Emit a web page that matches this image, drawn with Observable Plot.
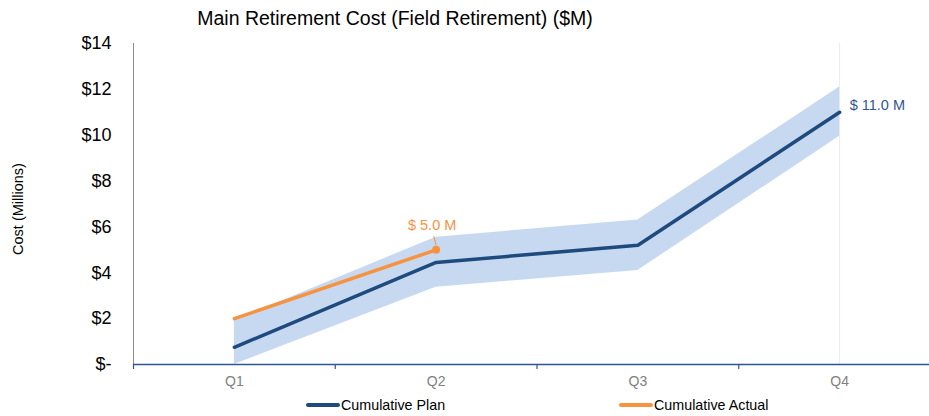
<!DOCTYPE html>
<html>
<head>
<meta charset="utf-8">
<script src="https://cdn.jsdelivr.net/npm/d3@7"></script>
<script src="https://cdn.jsdelivr.net/npm/@observablehq/plot@0.6"></script>
<style>
  html, body { margin: 0; padding: 0; background: #fff; }
  #wrap { position: relative; width: 929px; height: 416px; overflow: hidden; font-family: "Liberation Sans", Arial, sans-serif; }
  #title { position: absolute; left: 0; top: 7px; width: 790px; text-align: center; font-size: 19.5px; color: #000; }
  #chart { position: absolute; left: 0; top: 0; }
  #legend { position: absolute; top: 397px; left: 0; width: 929px; height: 19px; font-size: 14.3px; color: #000; }
  .item { position: absolute; top: 0; display: flex; align-items: center; }
  .sw { display: inline-block; width: 34px; height: 4px; border-radius: 2px; margin-right: 1px; }
</style>
</head>
<body>
<div id="wrap">
  <div id="chart"></div>
  <div id="title"></div>
  <div id="legend"></div>
</div>
<script>
// ---- data ----
const titleText = "Main Retirement Cost (Field Retirement) ($M)";
const yLabel = "Cost (Millions)";
const quarters = ["Q1", "Q2", "Q3", "Q4"];
const planValues = [0.75, 4.45, 5.2, 11.0];
const planLow = [0.0, 3.37, 4.1, 9.95];
const planHigh = [1.92, 5.55, 6.3, 12.1];
const actualValues = [2.0, 5.0, null, null];
const yTicks = [0, 2, 4, 6, 8, 10, 12, 14];
const yTickLabels = ["$-", "$2", "$4", "$6", "$8", "$10", "$12", "$14"];
const seriesNames = ["Cumulative Plan", "Cumulative Actual"];

// ---- style ----
const planColor = "#1F4A7E";
const actualColor = "#F7923F";
const bandColor = "#C6D9F0";
const planLabelColor = "#2F5597";

const rows = quarters.map((q, i) => ({
  q, i: i + 0.5, plan: planValues[i], low: planLow[i], high: planHigh[i], actual: actualValues[i]
}));
const actualRows = rows.filter(d => d.actual != null);
const lastPlan = rows[rows.length - 1];
const lastActual = actualRows[actualRows.length - 1];
const boundaries = d3.range(0, quarters.length + 1);

const fmt = v => `$ ${v.toFixed(1)} M`;

const chart = Plot.plot({
  width: 929,
  height: 416,
  marginLeft: 133,
  marginRight: 0,
  marginTop: 43,
  marginBottom: 52,
  style: { fontFamily: "'Liberation Sans', Arial, sans-serif", background: "transparent", overflow: "hidden" },
  x: { type: "linear", domain: [0, quarters.length], range: [133, 940], axis: null },
  y: { type: "linear", domain: [0, 14], axis: null },
  marks: [
    // faint vertical at last quarter
    Plot.ruleX([lastPlan], { x: "i", y1: 0, y2: 14, stroke: "#ebebeb", strokeWidth: 1 }),
    Plot.areaY(rows, { x: "i", y1: "low", y2: "high", fill: bandColor }),
    // y axis line
    Plot.ruleX([0], { y1: 0, y2: 14, stroke: "#8c8c8c", strokeWidth: 1 }),
    // y tick labels
    Plot.text(yTicks, { x: 0, y: d => d, text: (d, k) => yTickLabels[k], textAnchor: "end", dx: -22, fontSize: 18, fill: "#000" }),
    // y label
    Plot.text([yLabel], { x: 0, y: 7, dx: -115, dy: 5, textAnchor: "middle", rotate: -90, fontSize: 14.5, fill: "#000" }),
    // x axis
    Plot.ruleY([0], { stroke: "#2F5597", strokeWidth: 1.5 }),
    Plot.ruleX(boundaries, { x: d => d, y1: 0, y2: 0, insetBottom: -5, stroke: "#2F5597", strokeWidth: 1.2 }),
    Plot.text(rows, { x: "i", y: 0, text: "q", dy: 17, fontSize: 14, fill: "#7F7F7F" }),
    // lines
    Plot.line(rows, { x: "i", y: "plan", stroke: planColor, strokeWidth: 3.5 }),
    Plot.line(actualRows, { x: "i", y: "actual", stroke: actualColor, strokeWidth: 3.5 }),
    Plot.dot([lastActual], { x: "i", y: "actual", r: 4, fill: actualColor }),
    // leader line for actual label
    Plot.link([lastActual], { x1: "i", y1: d => d.actual + 0.2, x2: d => d.i - 0.012, y2: d => d.actual + 0.6, stroke: actualColor, strokeWidth: 1 }),
    Plot.text([lastActual], { x: "i", y: "actual", text: d => fmt(d.actual), dy: -24, dx: -4, fontSize: 14.5, fill: actualColor }),
    Plot.text([lastPlan], { x: "i", y: "plan", text: d => fmt(d.plan), textAnchor: "start", dx: 10, dy: -7, fontSize: 14.5, fill: planLabelColor })
  ]
});
document.getElementById("chart").appendChild(chart);
document.getElementById("title").textContent = titleText;

const legend = document.getElementById("legend");
const legendItems = [
  { name: seriesNames[0], color: planColor, left: 306 },
  { name: seriesNames[1], color: actualColor, left: 619 }
];
legendItems.forEach(it => {
  const el = document.createElement("div");
  el.className = "item";
  el.style.left = it.left + "px";
  const sw = document.createElement("span");
  sw.className = "sw";
  sw.style.background = it.color;
  const tx = document.createElement("span");
  tx.textContent = it.name;
  el.appendChild(sw); el.appendChild(tx);
  legend.appendChild(el);
});
</script>
</body>
</html>
